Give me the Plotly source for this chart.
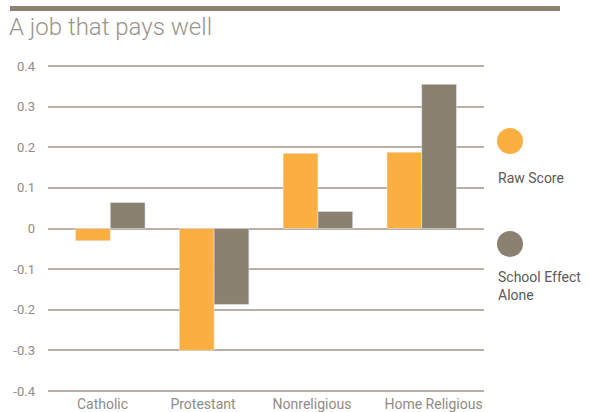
import plotly.graph_objects as go

categories = ["Catholic", "Protestant", "Nonreligious", "Home Religious"]
raw_score = [-0.03, -0.30, 0.185, 0.188]
school_effect = [0.064, -0.187, 0.042, 0.355]
y_ticks = [-0.4, -0.3, -0.2, -0.1, 0, 0.1, 0.2, 0.3, 0.4]
y_tick_labels = ["-0.4", "-0.3", "-0.2", "-0.1", "0", "0.1", "0.2", "0.3", "0.4"]
# category label positions (slightly offset from group centres, as in the reference)
x_label_pos = [-0.075, 0.893, 1.943, 3.114]

ORANGE = "#FBAF40"
BROWN = "#8A8170"
GRID = "#B6B0A6"
TICK = "#8F8B85"
LEG = "#5E5954"

W, H = 590, 412
L, R, T, B = 48, 106, 65, 20
pw, ph = W - L - R, H - T - B

def px(x):
    return (x - L) / pw

def py(y):
    return (H - B - y) / ph

fig = go.Figure()
fig.add_trace(go.Bar(x=categories, y=raw_score, marker_color=ORANGE, name="Raw Score"))
fig.add_trace(go.Bar(x=categories, y=school_effect, marker_color=BROWN, name="School Effect Alone"))

font_fam = "Roboto, 'Open Sans', sans-serif"

fig.update_layout(
    width=W, height=H,
    margin=dict(l=L, r=R, t=T, b=B),
    paper_bgcolor="white", plot_bgcolor="white",
    barmode="group", bargap=0.33, bargroupgap=0,
    showlegend=False,
    font=dict(family=font_fam, color=TICK),
    title=dict(text="A job that pays well", x=9 / W, xanchor="left", xref="container",
               y=1 - 27 / H, yanchor="middle", yref="container",
               font=dict(size=24, color="#98938B", family=font_fam, weight=300)),
)
fig.update_yaxes(range=[-0.4025, 0.4025], tickvals=y_ticks, ticktext=y_tick_labels,
                 showgrid=True, gridcolor=GRID, gridwidth=1.5,
                 zeroline=True, zerolinecolor=GRID, zerolinewidth=1.5,
                 ticks="", ticklabelstandoff=12, tickfont=dict(size=13, color=TICK),
                 showline=False, automargin=False)
fig.update_xaxes(range=[-0.6, 3.6], showgrid=False, zeroline=False, ticks="",
                 tickvals=x_label_pos, ticktext=categories,
                 tickfont=dict(size=14, color=TICK), showline=False, automargin=False,
                 ticklabelstandoff=2)

# top rule
fig.add_shape(type="rect", xref="paper", yref="paper", x0=px(10), x1=px(560),
              y0=py(11), y1=py(6), fillcolor=BROWN, line_width=0, layer="above")

# custom legend
for cy, col in [(141, ORANGE), (244, BROWN)]:
    fig.add_shape(type="circle", xref="paper", yref="paper",
                  xsizemode="pixel", ysizemode="pixel",
                  xanchor=px(510), yanchor=py(cy),
                  x0=-13, x1=13, y0=-13, y1=13,
                  fillcolor=col, line_width=0)
fig.add_annotation(xref="paper", yref="paper", x=px(496), y=py(178), xanchor="left",
                   yanchor="middle", text="Raw Score", showarrow=False,
                   font=dict(size=14, color=LEG), align="left")
fig.add_annotation(xref="paper", yref="paper", x=px(496), y=py(267), xanchor="left",
                   yanchor="top", text="School Effect<br>Alone", showarrow=False,
                   font=dict(size=14, color=LEG), align="left")

fig.write_html("out.html", config={"displayModeBar": False},
               post_script="document.body.style.margin='0';document.body.style.overflow='hidden';")
